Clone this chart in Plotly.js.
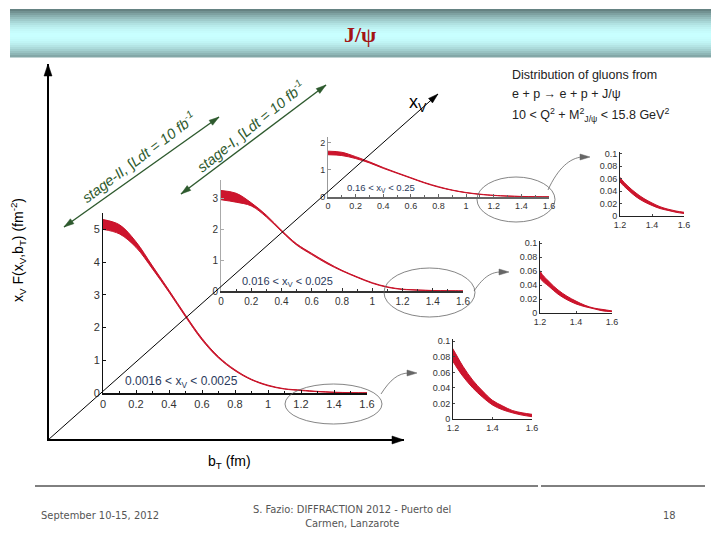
<!DOCTYPE html>
<html>
<head>
<meta charset="utf-8">
<script src="https://cdn.plot.ly/plotly-3.0.1.min.js"></script>
<style>html,body{margin:0;padding:0;background:#fff;}#chart{width:720px;height:540px;}</style>
</head>
<body>
<div id="chart"></div>
<script>
// ---- data ----
const bT = [0,0.1,0.2,0.3,0.4,0.5,0.6,0.7,0.8,0.9,1.0,1.1,1.2,1.25,1.3,1.35,1.4,1.45,1.5,1.55,1.6];

// 0.0016 < xV < 0.0025
const low1 = [5.00,4.86,4.45,3.79,3.08,2.33,1.62,1.07,0.68,0.40,0.22,0.12,0.074,0.055,0.040,0.028,0.018,0.012,0.008,0.005,0.003];
const up1  = [5.30,5.14,4.62,3.88,3.14,2.38,1.67,1.11,0.71,0.42,0.24,0.13,0.090,0.068,0.050,0.036,0.024,0.017,0.011,0.008,0.006];
// 0.016 < xV < 0.025
const low2 = [2.96,2.88,2.76,2.40,1.93,1.49,1.18,0.89,0.65,0.44,0.25,0.12,0.050,0.038,0.027,0.019,0.013,0.009,0.006,0.003,0.002];
const up2  = [3.26,3.17,2.86,2.46,1.97,1.53,1.22,0.93,0.67,0.46,0.27,0.135,0.060,0.045,0.033,0.024,0.017,0.011,0.007,0.005,0.003];
// 0.16 < xV < 0.25
const low3 = [1.55,1.52,1.41,1.25,1.05,0.87,0.69,0.51,0.36,0.245,0.155,0.095,0.055,0.042,0.031,0.023,0.017,0.012,0.009,0.006,0.004];
const up3  = [1.68,1.64,1.48,1.29,1.08,0.89,0.71,0.53,0.38,0.255,0.165,0.105,0.062,0.048,0.037,0.028,0.021,0.015,0.011,0.008,0.006];

const binLabels = ['0.0016 < x<sub>V</sub> < 0.0025','0.016 < x<sub>V</sub> < 0.025','0.16 < x<sub>V</sub> < 0.25'];
const mainTicks = [0,0.2,0.4,0.6,0.8,1,1.2,1.4,1.6];
const insetXTicks = [1.2,1.4,1.6];
const insetYTicks = [0,0.02,0.04,0.06,0.08,0.1];
const insetYLabels = ['0','0.02','0.04','0.06','0.08','0.1'];

// ---- helpers (pixel -> paper) ----
const W = 720, H = 540;
const px = x => x / W;
const py = y => 1 - y / H;
const dx = (a,b) => [px(a), px(b)];
const dy = (top,bot) => [py(bot), py(top)];

const RED = 'rgb(200,18,40)';
const FONT = 'Liberation Sans, Arial, sans-serif';

function band(lo, hi, xa, ya) {
  return [
    {x: bT, y: lo, xaxis: xa, yaxis: ya, mode: 'lines', line: {color: RED, width: 1, shape: 'spline'}, hoverinfo: 'skip'},
    {x: bT, y: hi, xaxis: xa, yaxis: ya, mode: 'lines', fill: 'tonexty', fillcolor: 'rgb(205,20,45)', line: {color: RED, width: 1, shape: 'spline'}, hoverinfo: 'skip'}
  ];
}

const traces = [].concat(
  band(low1, up1, 'x', 'y'),
  band(low2, up2, 'x2', 'y2'),
  band(low3, up3, 'x3', 'y3'),
  band(low3, up3, 'x4', 'y4'),
  band(low2, up2, 'x5', 'y5'),
  band(low1, up1, 'x6', 'y6')
);

function mainX(dom, anchor, fs, lc) {
  return {domain: dom, anchor: anchor, range: [0, 1.6], tickvals: mainTicks, showgrid: false, zeroline: false,
    showline: true, linecolor: lc, linewidth: 1.5, ticks: 'inside', ticklen: 3, tickcolor: lc,
    minor: {tickvals: [0.1,0.3,0.5,0.7,0.9,1.1,1.3,1.5], ticks: 'inside', ticklen: 2, tickcolor: lc},
    tickfont: {family: FONT, size: fs, color: '#333'}, fixedrange: true};
}
function mainY(dom, anchor, rng, tv, fs, lc) {
  return {domain: dom, anchor: anchor, range: rng, tickvals: tv, showgrid: false, zeroline: false,
    showline: true, linecolor: lc, linewidth: 1, ticks: 'inside', ticklen: 3, tickcolor: lc,
    tickfont: {family: FONT, size: fs, color: '#333'}, fixedrange: true};
}
function insetX(dom, anchor) {
  return {domain: dom, anchor: anchor, range: [1.2, 1.6], tickvals: insetXTicks, showgrid: false, zeroline: false,
    showline: true, linecolor: '#222', linewidth: 1, ticks: 'inside', ticklen: 2,
    tickfont: {family: FONT, size: 9, color: '#333'}, fixedrange: true};
}
function insetY(dom, anchor) {
  return {domain: dom, anchor: anchor, range: [0, 0.103], tickvals: insetYTicks, ticktext: insetYLabels, showgrid: false, zeroline: false,
    showline: true, linecolor: '#222', linewidth: 1, ticks: 'inside', ticklen: 2,
    tickfont: {family: FONT, size: 9, color: '#333'}, fixedrange: true};
}

// ---- decorations ----
const shapes = [];
// header gradient band
const hTop = 9, hBot = 57, strips = 24;
for (let i = 0; i < strips; i++) {
  const t = (i + 0.5) / strips;
  let f = 1 - Math.abs(t - 0.55) / 0.55;
  f = Math.max(0, Math.min(1, f));
  f = Math.sin(f * Math.PI / 2);
  const r = Math.round(95 + (200 - 95) * f), g = Math.round(122 + (255 - 122) * f), b = Math.round(122 + (255 - 122) * f);
  const y0 = hTop + (hBot - hTop) * i / strips, y1 = hTop + (hBot - hTop) * (i + 1) / strips + 0.5;
  shapes.push({type: 'rect', xref: 'paper', yref: 'paper', x0: px(10), x1: px(711), y0: py(y1), y1: py(y0), line: {width: 0}, fillcolor: `rgb(${r},${g},${b})`, layer: 'below'});
}
// footer rules
shapes.push({type: 'line', xref: 'paper', yref: 'paper', x0: px(35), x1: px(538), y0: py(486), y1: py(486), line: {color: '#000', width: 1}});
shapes.push({type: 'line', xref: 'paper', yref: 'paper', x0: px(541), x1: px(705), y0: py(486), y1: py(486), line: {color: '#000', width: 1}});
// ellipses
function ell(x0, x1, y0, y1) {
  shapes.push({type: 'circle', xref: 'paper', yref: 'paper', x0: px(x0), x1: px(x1), y0: py(y1), y1: py(y0), line: {color: '#666', width: 0.8}});
}
ell(285, 382, 384, 424);
ell(384, 475, 268, 317);
ell(477, 555, 177, 222);

// arrow head (filled triangle) at (hx,hy) pointing away from (tx,ty)
function head(hx, hy, tx, ty, len, wid, color) {
  const L = Math.hypot(hx - tx, hy - ty), ux = (hx - tx) / L, uy = (hy - ty) / L;
  const nx = -uy, ny = ux;
  const bx = hx - ux * len, by = hy - uy * len;
  const p1 = [bx + nx * wid / 2, by + ny * wid / 2], p2 = [bx - nx * wid / 2, by - ny * wid / 2];
  shapes.push({type: 'path', xref: 'paper', yref: 'paper',
    path: `M ${px(hx)},${py(hy)} L ${px(p1[0])},${py(p1[1])} L ${px(p2[0])},${py(p2[1])} Z`,
    fillcolor: color, line: {color: color, width: 0.5}});
}
function arrow(hx, hy, tx, ty, color, width, both, len, wid) {
  shapes.push({type: 'line', xref: 'paper', yref: 'paper', x0: px(tx), y0: py(ty), x1: px(hx), y1: py(hy), line: {color: color, width: width}});
  head(hx, hy, tx, ty, len, wid, color);
  if (both) head(tx, ty, hx, hy, len, wid, color);
}
// curved gray connectors with heads
function curve(p, color) {
  const s = p.map((v, i) => (i % 2 === 0 ? px(v) : py(v)));
  shapes.push({type: 'path', xref: 'paper', yref: 'paper',
    path: `M ${s[0]},${s[1]} C ${s[2]},${s[3]} ${s[4]},${s[5]} ${s[6]},${s[7]}`, line: {color: color, width: 0.8}});
  head(p[6] + 8, p[7], p[6], p[7], 10, 6, color);
}
curve([548, 190, 558, 168, 570, 158, 582, 157], '#666');
curve([474, 291, 484, 276, 492, 272, 501, 272], '#666');
curve([381, 394, 390, 380, 398, 373, 409, 373], '#666');

// main axes arrows
arrow(48, 64, 48, 441, '#000', 2, false, 12, 8);
arrow(404, 440, 47, 440, '#000', 2, false, 12, 8);
// xV diagonal
arrow(438, 94, 48, 440, '#000', 1, false, 10, 6);
// green luminosity arrows
arrow(219, 117, 64, 227, '#2e5a2e', 1.4, true, 10, 6);
arrow(326, 85, 181, 194, '#2e5a2e', 1.4, true, 10, 6);

const ann = [];
function txt(x, y, text, size, color, opts) {
  ann.push(Object.assign({xref: 'paper', yref: 'paper', x: px(x), y: py(y), text: text, showarrow: false,
    font: {family: FONT, size: size, color: color}, xanchor: 'center', yanchor: 'middle'}, opts || {}));
}

// texts
txt(360, 34, '<b>J/ψ</b>', 22, '#a31515', {font: {family: 'Liberation Serif, Times New Roman, serif', size: 22, color: '#a31515'}});
txt(18, 250, 'x<sub>V</sub> F(x<sub>V</sub>,b<sub>T</sub>) (fm<sup>-2</sup>)', 14, '#000', {textangle: -90});
txt(230, 462, 'b<sub>T</sub> (fm)', 14, '#000');
txt(418, 103, 'x<sub>V</sub>', 18, '#000');
txt(510, 75, 'Distribution of gluons from', 12.5, '#222', {xanchor: 'left'});
txt(510, 94, 'e + p → e + p + J/ψ', 12.5, '#222', {xanchor: 'left'});
txt(510, 115, '10 < Q<sup>2</sup> + M<sup>2</sup><sub>J/ψ</sub> < 15.8 GeV<sup>2</sup>', 12.5, '#222', {xanchor: 'left'});
txt(181, 382, binLabels[0], 12, '#2b3a5c');
txt(287, 282, binLabels[1], 11, '#2b3a5c');
txt(381, 188, binLabels[2], 9.5, '#2b3a5c');
txt(139, 158, '<i>stage-II, ∫Ldt = 10 fb<sup>-1</sup></i>', 14.5, '#2e5a2e', {textangle: -37});
txt(251, 127, '<i>stage-I, ∫Ldt = 10 fb<sup>-1</sup></i>', 14.5, '#2e5a2e', {textangle: -39});
// footer
const FF = 'Liberation Sans Narrow, DejaVu Sans Condensed, Arial Narrow, sans-serif';
txt(100, 515, 'September 10-15, 2012', 11, '#555', {font: {family: FF, size: 11, color: '#555'}});
txt(352, 516, 'S. Fazio: DIFFRACTION 2012 - Puerto del<br>Carmen, Lanzarote', 11, '#555', {font: {family: FF, size: 11, color: '#555'}});
txt(669, 515, '18', 11, '#555', {font: {family: FF, size: 11, color: '#555'}});

const layout = {
  width: W, height: H, margin: {l: 0, r: 0, t: 0, b: 0},
  paper_bgcolor: '#fff', plot_bgcolor: 'rgba(0,0,0,0)', showlegend: false,
  xaxis: mainX(dx(103, 367), 'y', 11, '#111'),
  yaxis: mainY(dy(213, 393), 'x', [0, 5.5], [0,1,2,3,4,5], 11, '#111'),
  xaxis2: mainX(dx(221, 463), 'y2', 10, '#333'),
  yaxis2: mainY(dy(180, 291), 'x2', [0, 3.6], [0,1,2,3], 10, '#aaa'),
  xaxis3: mainX(dx(328, 549), 'y3', 9, '#666'),
  yaxis3: mainY(dy(137, 197), 'x3', [0, 2.2], [0,1,2], 9, '#999'),
  xaxis4: insetX(dx(620, 684), 'y4'),
  yaxis4: insetY(dy(152, 216), 'x4'),
  xaxis5: insetX(dx(540, 612), 'y5'),
  yaxis5: insetY(dy(241, 313), 'x5'),
  xaxis6: insetX(dx(453, 532), 'y6'),
  yaxis6: insetY(dy(339, 419), 'x6'),
  shapes: shapes,
  annotations: ann
};

Plotly.newPlot('chart', traces, layout, {displayModeBar: false, staticPlot: true});
</script>
</body>
</html>
